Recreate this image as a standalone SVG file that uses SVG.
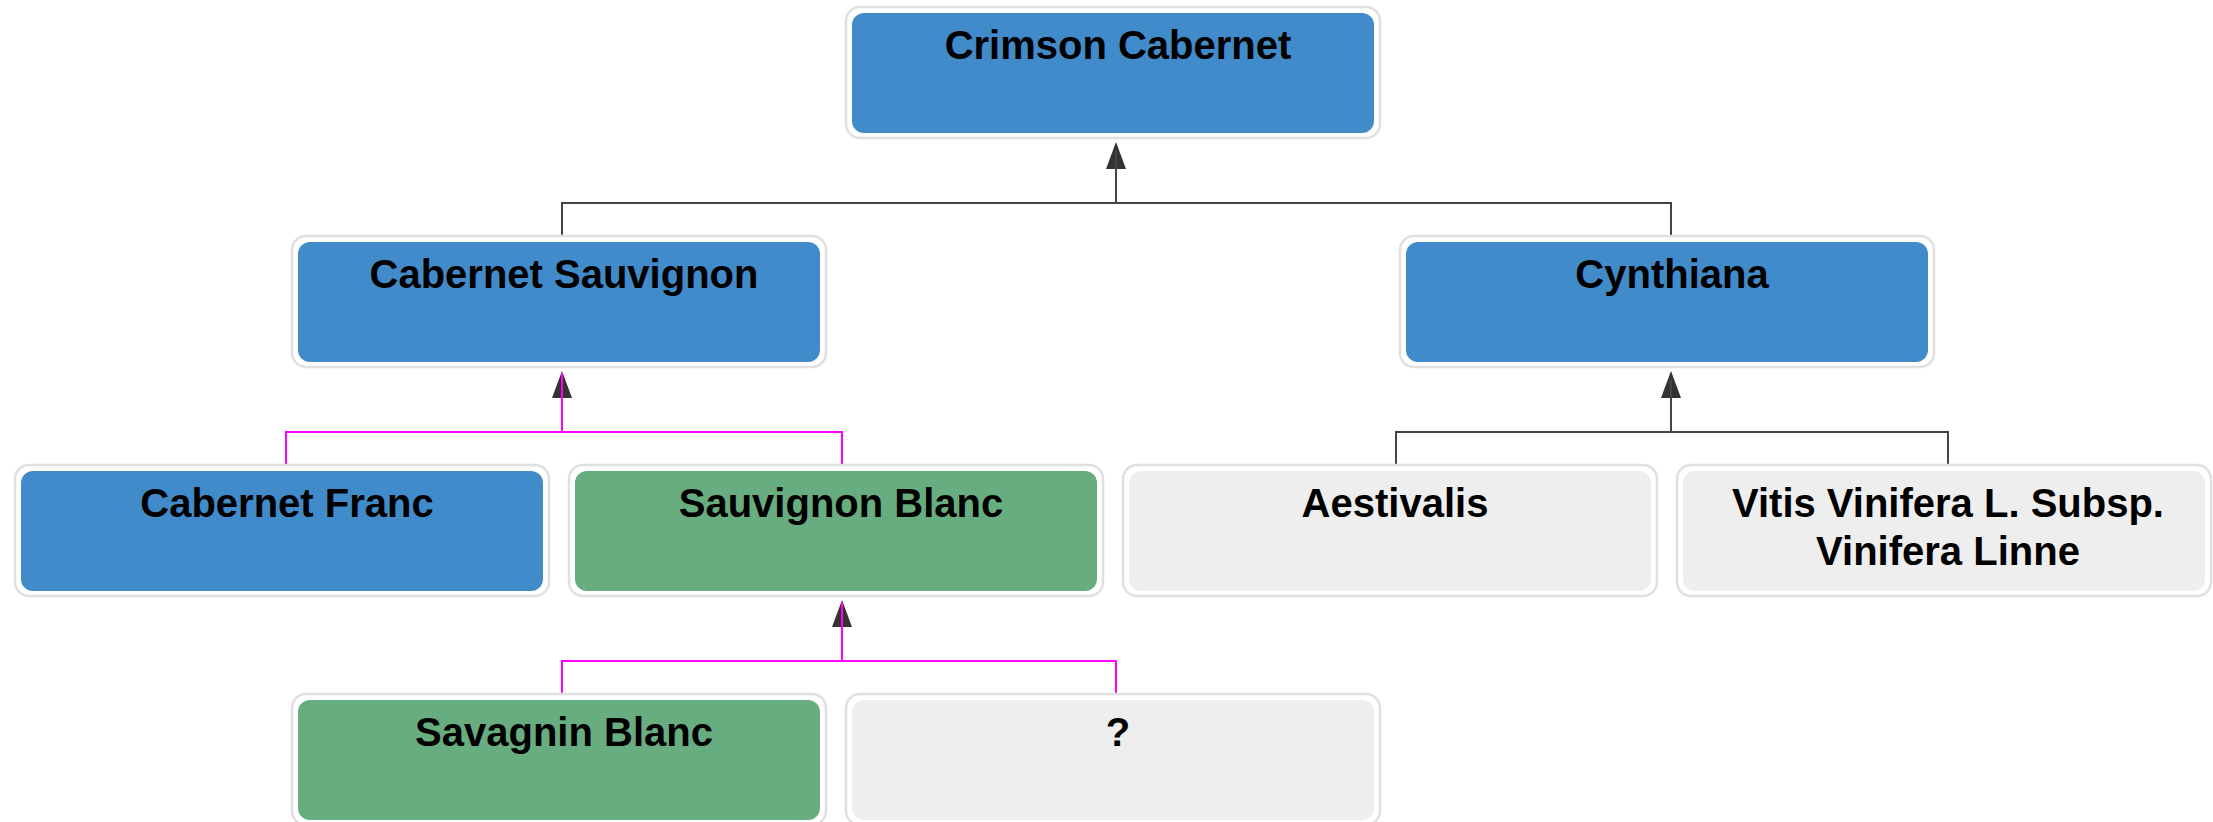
<svg xmlns="http://www.w3.org/2000/svg" width="2213" height="822" viewBox="0 0 2213 822">
  <style>
    .frame { fill: #ffffff; stroke: #e0e0e0; stroke-width: 2.5; }
    .blue { fill: #428bca; }
    .green { fill: #68ad80; }
    .gray { fill: #eeeeee; }
    .label { font-family: "Liberation Sans", Arial, sans-serif; font-size: 40px; font-weight: bold; fill: #000000; text-anchor: middle; }
    .dark { fill: none; stroke: #444444; stroke-width: 2; }
    .pink { fill: none; stroke: #ff00ff; stroke-width: 2; }
    .arrow { fill: #333333; }
  </style>
  <defs>
    <polygon id="arrowhead" class="arrow" points="0,0 10,27 -10,27"/>
  </defs>
  <rect width="2213" height="822" fill="#ffffff"/>

  <g id="connectors">
    <use href="#arrowhead" x="1116" y="142"/>
    <path class="dark" d="M562,236 V203 H1671 V236 M1116,203 V150"/>
    <use href="#arrowhead" x="1671" y="371"/>
    <path class="dark" d="M1396,465 V432 H1948 V465 M1671,432 V379"/>
    <use href="#arrowhead" x="562" y="371"/>
    <path class="pink" d="M286,465 V432 H842 V465 M562,432 V373"/>
    <use href="#arrowhead" x="842" y="600"/>
    <path class="pink" d="M562,694 V661 H1116 V694 M842,661 V602"/>
  </g>

  <g id="crimson-cabernet">
    <rect class="frame" x="846" y="7" width="534" height="131" rx="14"/>
    <rect class="blue" x="852" y="13" width="522" height="120" rx="12"/>
    <text class="label" x="1118" y="59">Crimson Cabernet</text>
  </g>
  <g id="cabernet-sauvignon">
    <rect class="frame" x="292" y="236" width="534" height="131" rx="14"/>
    <rect class="blue" x="298" y="242" width="522" height="120" rx="12"/>
    <text class="label" x="564" y="288">Cabernet Sauvignon</text>
  </g>
  <g id="cynthiana">
    <rect class="frame" x="1400" y="236" width="534" height="131" rx="14"/>
    <rect class="blue" x="1406" y="242" width="522" height="120" rx="12"/>
    <text class="label" x="1672" y="288">Cynthiana</text>
  </g>
  <g id="cabernet-franc">
    <rect class="frame" x="15" y="465" width="534" height="131" rx="14"/>
    <rect class="blue" x="21" y="471" width="522" height="120" rx="12"/>
    <text class="label" x="287" y="517">Cabernet Franc</text>
  </g>
  <g id="sauvignon-blanc">
    <rect class="frame" x="569" y="465" width="534" height="131" rx="14"/>
    <rect class="green" x="575" y="471" width="522" height="120" rx="12"/>
    <text class="label" x="841" y="517">Sauvignon Blanc</text>
  </g>
  <g id="aestivalis">
    <rect class="frame" x="1123" y="465" width="534" height="131" rx="14"/>
    <rect class="gray" x="1129" y="471" width="522" height="120" rx="12"/>
    <text class="label" x="1395" y="517">Aestivalis</text>
  </g>
  <g id="vitis-vinifera">
    <rect class="frame" x="1677" y="465" width="534" height="131" rx="14"/>
    <rect class="gray" x="1683" y="471" width="522" height="120" rx="12"/>
    <text class="label" x="1948" y="517">Vitis Vinifera L. Subsp.</text>
    <text class="label" x="1948" y="565">Vinifera Linne</text>
  </g>
  <g id="savagnin-blanc">
    <rect class="frame" x="292" y="694" width="534" height="131" rx="14"/>
    <rect class="green" x="298" y="700" width="522" height="120" rx="12"/>
    <text class="label" x="564" y="746">Savagnin Blanc</text>
  </g>
  <g id="unknown">
    <rect class="frame" x="846" y="694" width="534" height="131" rx="14"/>
    <rect class="gray" x="852" y="700" width="522" height="120" rx="12"/>
    <text class="label" x="1118" y="746">?</text>
  </g>
</svg>
